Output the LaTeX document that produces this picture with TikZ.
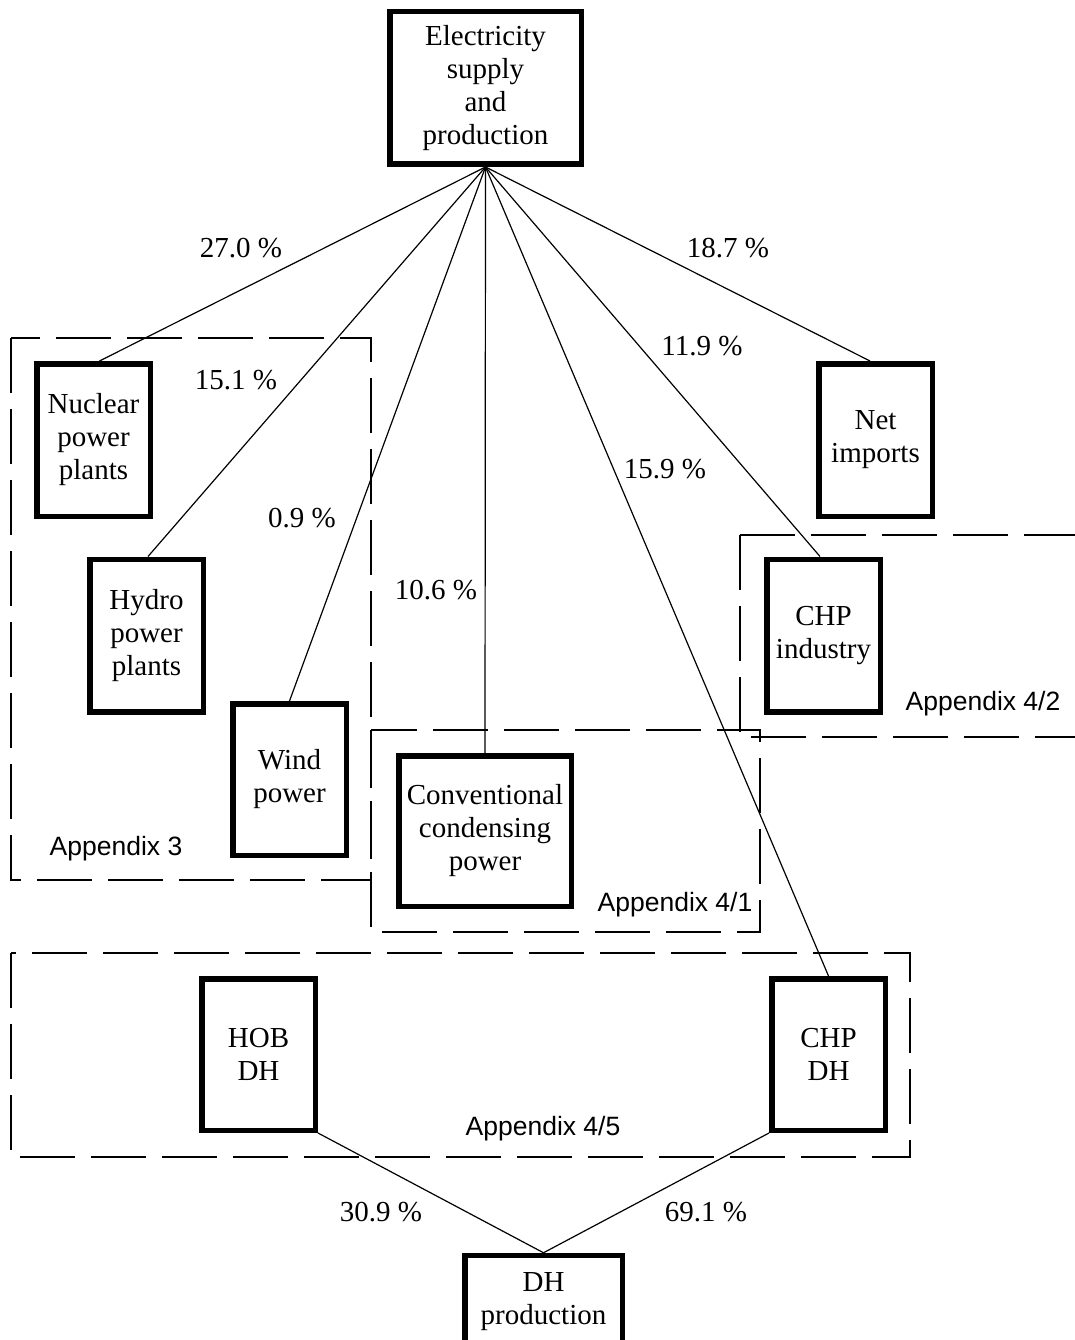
\documentclass[tikz,border=0pt]{standalone}
\usepackage{fontspec}
\setmainfont{Liberation Serif}
\newfontfamily\appfont{Liberation Sans}
\begin{document}
\begin{tikzpicture}[x=1pt,y=-1pt,
  box/.style={draw,line width=5.5pt,minimum width=113.5pt,minimum height=152.5pt,inner sep=0pt,align=center,
    font=\fontsize{29}{33}\selectfont},
  conn/.style={line width=1.2pt},
  grp/.style={line width=1.5pt,dash pattern=on 55pt off 16pt},
  pct/.style={font=\fontsize{29}{33}\selectfont,inner sep=0pt},
  app/.style={font=\appfont\fontsize{26.5}{30}\selectfont,inner sep=0pt}]
\useasboundingbox (0,0) rectangle (1074,1340);
\fill[white] (0,0) rectangle (1074,1340);
% group rectangles
\draw[grp] (11,338) rectangle (371,880);
\draw[grp] (371,730) rectangle (760,932);
\draw[grp] (740,535) -- (1080,535);
\draw[grp] (740,535) -- (740,737) -- (1080,737);
\draw[grp] (11,953) rectangle (910,1157);
% boxes
\node[box,minimum width=191.5pt] (top) at (485.5,88) {Electricity\\supply\\and\\production};
\node[box] (nuc) at (93.5,440) {Nuclear\\power\\plants};
\node[box] (hyd) at (146.5,635.5) {Hydro\\power\\plants};
\node[box,minimum height=151.5pt] (wind) at (289.5,779.5) {Wind\\power};
\node[box,minimum width=172.5pt,minimum height=150.5pt] (conv) at (485,831) {Conventional\\condensing\\power};
\node[box] (net) at (875.5,440) {Net\\imports};
\node[box] (chpi) at (823.5,635.5) {CHP\\industry};
\node[box,minimum height=151.5pt] (hob) at (258.5,1054.5) {HOB\\DH};
\node[box,minimum height=151.5pt] (chpdh) at (828.5,1054.5) {CHP\\DH};
\node[box,minimum width=157.5pt,minimum height=92pt] (dh) at (543.5,1301.5) {DH\\production};
% connectors
\draw[conn] (top.south) -- ([xshift=6pt]nuc.north);
\draw[conn] (top.south) -- ([xshift=1.5pt]hyd.north);
\draw[conn] (top.south) -- (wind.north);
\draw[conn] (top.south) -- (conv.north);
\draw[conn] (top.south) -- (chpdh.north);
\draw[conn] (top.south) -- ([xshift=-3.5pt]chpi.north);
\draw[conn] (top.south) -- ([xshift=-5.5pt]net.north);
\draw[conn] (hob.south east) -- (dh.north);
\draw[conn] (chpdh.south west) -- (dh.north);
% labels
\node[pct] (l1) at (241,248) {27.0 \%};
\node[pct] (l2) at (728,248) {18.7 \%};
\node[pct] (l3) at (702,346) {11.9 \%};
\node[pct] (l4) at (236,380) {15.1 \%};
\node[pct] (l5) at (665,469) {15.9 \%};
\node[pct] (l6) at (302,518) {0.9 \%};
\node[pct] (l7) at (436,590) {10.6 \%};
\node[pct] (l8) at (381,1212) {30.9 \%};
\node[pct] (l9) at (706,1212) {69.1 \%};
\node[app] (a3) at (116,849) {Appendix 3};
\node[app] (a41) at (675,905) {Appendix 4/1};
\node[app] (a42) at (983,704) {Appendix 4/2};
\node[app] (a45) at (543,1129) {Appendix 4/5};
\end{tikzpicture}
\end{document}
